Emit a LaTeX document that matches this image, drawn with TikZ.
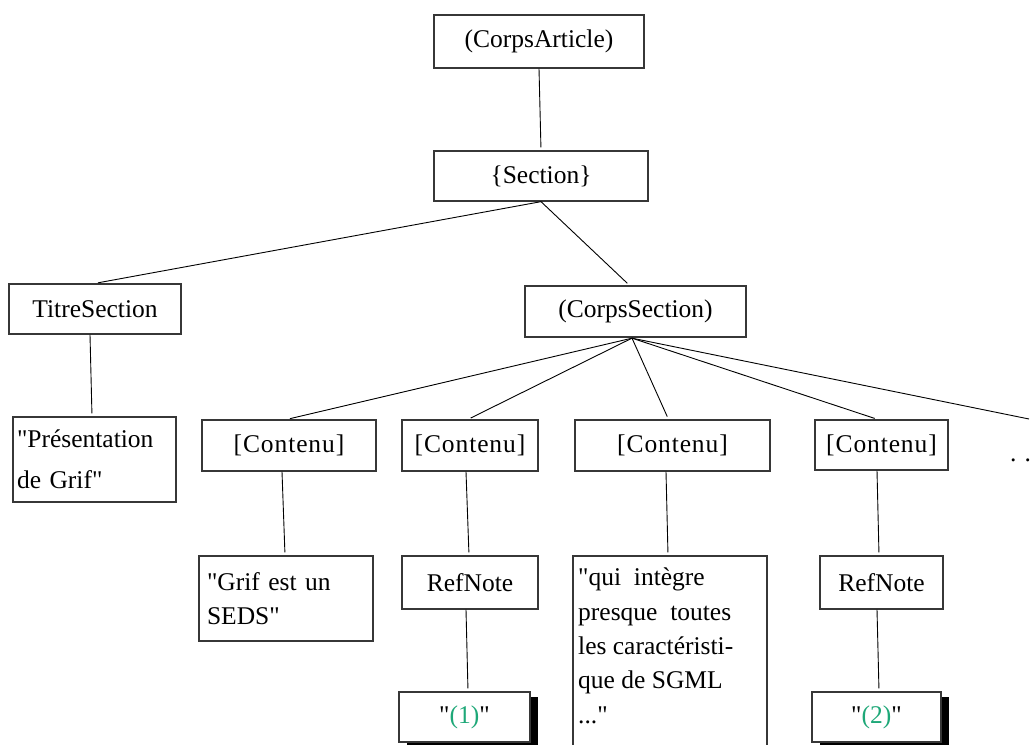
\documentclass[tikz,border=0pt]{standalone}
\usepackage{fontspec}
\setmainfont{Liberation Serif}[Ligatures=TeXOff]
\usetikzlibrary{shadows,calc}
\definecolor{notegreen}{RGB}{30,168,120}
\definecolor{boxline}{RGB}{55,55,55}
\begin{document}
\begin{tikzpicture}[x=1pt,y=-1pt,
  box/.style={draw=boxline, line width=1.3pt, rectangle, inner sep=0pt, fill=white,
    font=\fontsize{25.5}{34}\selectfont},
  edge/.style={draw=black, line width=0.9pt, shorten >=3pt},
  spaced/.style={font=\fontsize{25.5}{34}\selectfont\addfontfeature{LetterSpace=3.5}},
  shadowbox/.style={box, drop shadow={shadow xshift=8pt, shadow yshift=-5pt, fill=black, opacity=1}}]
\useasboundingbox (0,0) rectangle (1035,744);
% boxes
\node[box, minimum width=210pt, minimum height=53pt] (ca) at (539,41.5) {(CorpsArticle)};
\node[box, minimum width=214pt, minimum height=50pt] (sec) at (541,176) {\{Section\}};
\node[box, minimum width=172pt, minimum height=50pt] (ts) at (95,309) {TitreSection};
\node[box, minimum width=221pt, minimum height=51pt] (cs) at (635.5,311.5) {(CorpsSection)};
\node[box, minimum width=163pt, minimum height=85pt, align=left, text width=155pt,
  font=\fontsize{25.5}{41}\selectfont] (pres) at (94.5,459.5) {"Présentation\\de Grif"};
\node[box, spaced, minimum width=174pt, minimum height=51pt] (c1) at (289,445.5) {[Contenu]};
\node[box, spaced, minimum width=136pt, minimum height=51pt] (c2) at (470,445.5) {[Contenu]};
\node[box, spaced, minimum width=195pt, minimum height=51pt] (c3) at (672.5,445.5) {[Contenu]};
\node[box, spaced, minimum width=133pt, minimum height=50pt] (c4) at (881.5,445) {[Contenu]};
\node[anchor=base west, inner sep=0pt, font=\fontsize{25.5}{34}\selectfont] (dots) at (1010,461) {.\hspace{8pt}.};
\node[box, minimum width=174pt, minimum height=85pt, align=left, text width=158pt] (grif) at (286,598.5) {"Grif est un\\SEDS"};
\node[box, minimum width=136pt, minimum height=53pt] (rn1) at (470,582.5) {RefNote};
\node[box, minimum width=194pt, minimum height=214pt] (qui) at (670,663) {};
\node[anchor=north west, inner sep=0pt, align=left, font=\fontsize{25.5}{34.3}\selectfont] (quitext) at (578,568)
  {"qui\ \ intègre\\presque\ \ toutes\\les caractéristi-\\que de SGML\\..."};
\node[box, minimum width=123pt, minimum height=53pt] (rn2) at (881.5,582.5) {RefNote};
\node[shadowbox, minimum width=131pt, minimum height=50pt] (n1) at (464.5,717) {"\textcolor{notegreen}{(1)}"};
\node[shadowbox, minimum width=129pt, minimum height=50pt] (n2) at (876.5,717) {"\textcolor{notegreen}{(2)}"};
% connectors
\coordinate (fan) at ($(cs.south)+(-3.5,0.5)$);
\coordinate (more) at (1029,419);
\draw[edge] (ca.south) -- (sec.north);
\draw[edge] (sec.south) -- (ts.north);
\draw[edge] (sec.south) -- ($(cs.north)+(-6,0)$);
\draw[edge] ($(ts.south)+(-5,0)$) -- ($(pres.north)+(-2.5,0)$);
\draw[edge] (fan) -- ($(c1.north)+(-2,0)$);
\draw[edge] (fan) -- ($(c2.north)+(-2,0)$);
\draw[edge] (fan) -- ($(c3.north)+(-4,0)$);
\draw[edge] (fan) -- ($(c4.north)+(-4,0)$);
\draw[edge, shorten >=0pt] (fan) -- (more);
\draw[edge] ($(c1.south)+(-7,0)$) -- ($(grif.north)+(-1,0)$);
\draw[edge] ($(c2.south)+(-4,0)$) -- ($(rn1.north)+(-1,0)$);
\draw[edge] ($(c3.south)+(-6.5,0)$) -- ($(qui.north)+(-2,0)$);
\draw[edge] ($(c4.south)+(-4.5,0)$) -- ($(rn2.north)+(-2.5,0)$);
\draw[edge] ($(rn1.south)+(-4,0)$) -- ($(n1.north)+(3.5,0)$);
\draw[edge] ($(rn2.south)+(-4.5,0)$) -- ($(n2.north)+(2.5,0)$);
\end{tikzpicture}
\end{document}
